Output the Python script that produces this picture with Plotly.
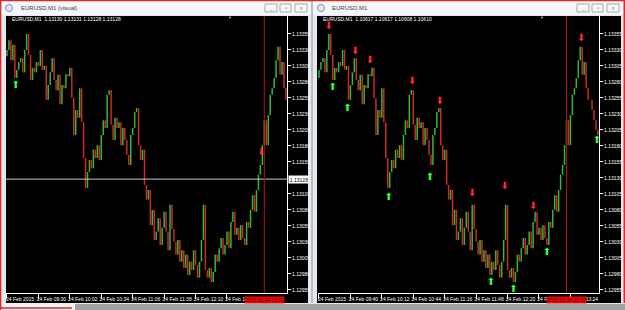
import plotly.graph_objects as go

W, H = 625, 310

# ---------------- data ----------------
# 2-minute closes of EURUSD M1, minutes counted from 24 Feb 2015 08:58
bar_minutes = list(range(0, 296, 2))
first_open = 1.13320
closes = [
    1.13330, 1.13345, 1.13314, 1.13338, 1.13286, 1.13299, 1.13311, 1.13317, 1.13295, 1.13330,
    1.13355, 1.13322, 1.13283, 1.13302, 1.13295, 1.13311, 1.13305, 1.13330, 1.13299, 1.13305,
    1.13252, 1.13275, 1.13295, 1.13317, 1.13283, 1.13267, 1.13291, 1.13245, 1.13275, 1.13270,
    1.13292, 1.13289, 1.13302, 1.13255, 1.13197, 1.13236, 1.13224, 1.13270, 1.13217, 1.13161,
    1.13114, 1.13139, 1.13158, 1.13145, 1.13174, 1.13161, 1.13181, 1.13158, 1.13197, 1.13220,
    1.13208, 1.13260, 1.13267, 1.13213, 1.13189, 1.13224, 1.13208, 1.13217, 1.13181, 1.13208,
    1.13189, 1.13166, 1.13150, 1.13197, 1.13208, 1.13233, 1.13239, 1.13181, 1.13158, 1.13174,
    1.13119, 1.13096, 1.13111, 1.13056, 1.13080, 1.13033, 1.13046, 1.13067, 1.13025, 1.13052,
    1.13077, 1.13046, 1.13017, 1.13088, 1.13050, 1.13030, 1.13010, 1.13033, 1.12999, 1.13017,
    1.12989, 1.13010, 1.12978, 1.12999, 1.12986, 1.13017, 1.12994, 1.12974, 1.12999, 1.13033,
    1.13088, 1.12986, 1.12974, 1.12989, 1.12967, 1.12983, 1.13010, 1.12999, 1.13020, 1.13036,
    1.13010, 1.13025, 1.13046, 1.13020, 1.13061, 1.13077, 1.13041, 1.13052, 1.13033, 1.13056,
    1.13036, 1.13025, 1.13061, 1.13052, 1.13080, 1.13103, 1.13077, 1.13111, 1.13135, 1.13150,
    1.13181, 1.13220, 1.13181, 1.13228, 1.13260, 1.13270, 1.13286, 1.13314, 1.13335, 1.13291,
    1.13311, 1.13270, 1.13252, 1.13252, 1.13236, 1.13220, 1.13205, 1.13197,
]

# signal arrows
left_up_min = [9]
left_up_price = [1.13274]
left_down_min = [259]
left_down_price = [1.13170]
right_down_min = [20, 47, 62, 105, 133, 166, 199, 228, 277]
right_down_price = [1.13366, 1.13328, 1.13314, 1.13280, 1.13250, 1.13106, 1.13116, 1.13086, 1.13348]
right_up_min = [24, 39, 81, 123, 185, 208, 242, 293]
right_up_price = [1.13272, 1.13239, 1.13100, 1.13130, 1.12966, 1.12955, 1.13013, 1.13189]

current_price = 1.13128
vline_minute = 262

price_ticks = [1.12955, 1.12980, 1.13005, 1.13030, 1.13055, 1.13080, 1.13105, 1.13130,
               1.13155, 1.13180, 1.13205, 1.13230, 1.13255, 1.13280, 1.13305, 1.13330, 1.13355]
left_time_ticks = [0, 32, 64, 96, 128, 160, 192, 224]
left_time_labels = ["24 Feb 2015", "24 Feb 09:30", "24 Feb 10:02", "24 Feb 10:34", "24 Feb 11:06",
                    "24 Feb 11:38", "24 Feb 12:10", "24 Feb 12:42"]
right_time_ticks = [10, 42, 74, 106, 138, 170, 202, 234, 266]
right_time_labels = ["24 Feb 2015", "24 Feb 09:40", "24 Feb 10:12", "24 Feb 10:44", "24 Feb 11:16",
                     "24 Feb 11:48", "24 Feb 12:20", "24 Feb 12:52", "24 Feb 13:24"]
vline_label = "2015.02.24 13:20"

left_title = "EURUSD,M1 (visual)"
right_title = "EURUSD,M1"
left_header = "EURUSD,M1  1.13130 1.13131 1.13128 1.13128"
right_header = "EURUSD,M1  1.10617 1.10617 1.10608 1.10610"

# ---------------- style ----------------
UP = "#34b834"
DOWN = "#cc2a22"
FONT = "Liberation Sans"


def px_x(p):
    return p / W


def px_y(p):
    return 1 - p / H


fig = go.Figure()


def add_bars(xa, ya):
    ux, uy, dx, dy = [], [], [], []
    prev = first_open
    for m, c in zip(bar_minutes, closes):
        lo, hi = min(prev, c), max(prev, c)
        if c >= prev:
            ux += [m, m, None]
            uy += [lo, hi, None]
        else:
            dx += [m, m, None]
            dy += [lo, hi, None]
        prev = c
    for xs, ys, col in ((ux, uy, UP), (dx, dy, DOWN)):
        fig.add_trace(go.Scatter(x=xs, y=ys, mode="lines", line=dict(color=col, width=1.5),
                                 xaxis=xa, yaxis=ya, hoverinfo="skip", showlegend=False))


def add_arrows(xa, ya, mins, prices, glyph, col):
    fig.add_trace(go.Scatter(x=mins, y=prices, mode="text", text=[glyph] * len(mins),
                             textposition="middle center",
                             textfont=dict(family="DejaVu Sans", size=10, color=col),
                             xaxis=xa, yaxis=ya, hoverinfo="skip", showlegend=False))


add_bars("x", "y")
add_bars("x2", "y2")
add_arrows("x", "y", left_up_min, left_up_price, "⬆", "#33ff33")
add_arrows("x", "y", left_down_min, left_down_price, "⬇", "#ff2a2a")
add_arrows("x2", "y2", right_up_min, right_up_price, "⬆", "#33ff33")
add_arrows("x2", "y2", right_down_min, right_down_price, "⬇", "#ff2a2a")

ydom = [px_y(293), px_y(16)]
common_x = dict(showgrid=False, zeroline=False, showline=True, linecolor="white", linewidth=1,
                ticks="outside", ticklen=5, tickcolor="white", tickwidth=1, tickangle=0,
                tickfont=dict(family=FONT, size=5, color="white"), ticklabelshift=13,
                ticklabelstandoff=-4, automargin=False, fixedrange=True)
common_y = dict(showgrid=False, zeroline=False, showline=True, linecolor="white", linewidth=1,
                ticks="outside", ticklen=3, tickcolor="white", tickwidth=1, side="right",
                tickfont=dict(family=FONT, size=5, color="white"), range=[1.12950, 1.13383],
                automargin=False, fixedrange=True, domain=ydom)
left_price_ticks = [v for v in price_ticks if v != 1.13130]

fig.update_layout(
    width=W, height=H, margin=dict(l=0, r=0, t=0, b=0),
    paper_bgcolor="#e4e8ed", plot_bgcolor="black", showlegend=False,
    xaxis=dict(domain=[px_x(6), px_x(287)], range=[-1.0, 285.1], anchor="y",
               tickvals=left_time_ticks, ticktext=left_time_labels, **common_x),
    yaxis=dict(anchor="x", tickvals=left_price_ticks,
               ticktext=[f"{v:.5f}" for v in left_price_ticks], **common_y),
    xaxis2=dict(domain=[px_x(318), px_x(599)], range=[9.0, 295.1], anchor="y2",
                tickvals=right_time_ticks, ticktext=right_time_labels, **common_x),
    yaxis2=dict(anchor="x2", tickvals=price_ticks,
                ticktext=[f"{v:.5f}" for v in price_ticks], **common_y),
)

shapes = []


def rect(x0, y0, x1, y1, fill, line=None, layer="below", lw=1):
    shapes.append(dict(type="rect", xref="paper", yref="paper",
                       x0=px_x(x0), x1=px_x(x1), y0=px_y(y1), y1=px_y(y0),
                       fillcolor=fill, line=dict(color=line or fill, width=lw if line else 0),
                       layer=layer))


# window chart areas (black)
rect(6, 16, 308, 303, "black")
rect(317, 16, 621, 303, "black")
# title bars
rect(1, 1, 311, 15, "#f5f7fa")
rect(313, 1, 623, 15, "#f5f7fa")
# separator between windows
rect(311, 0, 313, 303, "#b9bec5")
# bottom strip
rect(75, 304, 625, 310, "#a3a3a3")
rect(0, 303, 75, 310, "#f2f2f2")
# window buttons
for off in (0, 312):
    for bx0, bx1 in ((265, 277), (280, 291), (295, 307)):
        rect(bx0 + off, 4, bx1 + off, 12, "#f9f9f9", line="#a8a8a8", layer="above")
# red outline
shapes.append(dict(type="line", xref="paper", yref="paper", x0=0, x1=1, y0=px_y(0.5), y1=px_y(0.5),
                   line=dict(color="#e02828", width=1.5)))
shapes.append(dict(type="line", xref="paper", yref="paper", x0=px_x(0.6), x1=px_x(0.6), y0=0, y1=1,
                   line=dict(color="#e02828", width=1.5)))
shapes.append(dict(type="line", xref="paper", yref="paper", x0=px_x(624.3), x1=px_x(624.3),
                   y0=px_y(303), y1=1, line=dict(color="#e02828", width=1.5)))
shapes.append(dict(type="line", xref="paper", yref="paper", x0=0, x1=px_x(72), y0=px_y(308),
                   y1=px_y(308), line=dict(color="#e02828", width=1.5)))
# title icons
for cx in (9, 321):
    shapes.append(dict(type="circle", xref="paper", yref="paper", x0=px_x(cx - 3.5), x1=px_x(cx + 3.5),
                       y0=px_y(11.5), y1=px_y(4.5), line=dict(color="#7b93b3", width=1),
                       fillcolor="#dfe8f3"))
# current price line (left chart)
shapes.append(dict(type="line", xref="x domain", yref="y", x0=0, x1=1, y0=current_price,
                   y1=current_price, line=dict(color="#c8c8c8", width=1)))
# vertical red lines
for xa, ya in (("x", "y"), ("x2", "y2")):
    shapes.append(dict(type="line", xref=xa, yref=f"{ya} domain", x0=vline_minute, x1=vline_minute,
                       y0=0, y1=1, line=dict(color="#b81010", width=1)))

annotations = []


def text(x, y, s, size=5, color="white", anchor="left", **kw):
    annotations.append(dict(x=px_x(x), y=px_y(y), xref="paper", yref="paper", text=s, showarrow=False,
                            xanchor=anchor, yanchor="middle",
                            font=dict(family=FONT, size=size, color=color), **kw))


text(19, 8, left_title, size=6, color="#404040")
text(330, 8, right_title, size=6, color="#404040")
text(10, 19.5, left_header)
text(321, 19.5, right_header)
text(230, 17.5, "▼", size=4, color="#bdbdbd", anchor="center")
text(542, 17.5, "▼", size=4, color="#bdbdbd", anchor="center")
for off in (0, 312):
    text(271 + off, 8, "_", size=5, color="#606060", anchor="center")
    text(285.5 + off, 8, "▫", size=6, color="#606060", anchor="center")
    text(301 + off, 8, "x", size=5, color="#606060", anchor="center")

# current price box (left)
annotations.append(dict(x=px_x(288), y=current_price, xref="paper", yref="y", text="1.13128",
                        showarrow=False, xanchor="left", yanchor="middle", bgcolor="white",
                        borderpad=0, width=20, height=7,
                        font=dict(family=FONT, size=5, color="black")))
# red time boxes under the vertical lines
for xa in ("x", "x2"):
    annotations.append(dict(x=vline_minute, y=px_y(300), xref=xa, yref="paper", text=vline_label,
                            showarrow=False, xanchor="center", yanchor="middle", bgcolor="#e20a0a",
                            borderpad=0, width=39, height=6,
                            font=dict(family=FONT, size=5, color="#7a0000")))

fig.update_layout(shapes=shapes, annotations=annotations)
fig.write_html("out.html")
